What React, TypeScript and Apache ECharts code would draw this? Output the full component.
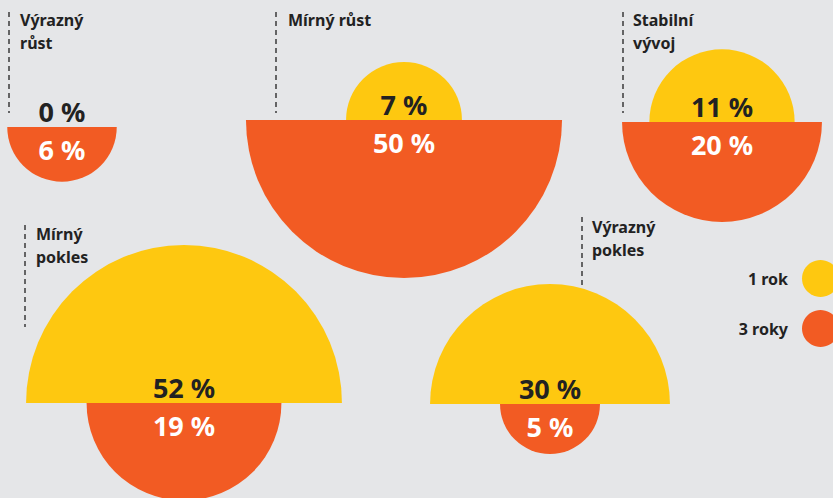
import React, { useEffect, useRef } from "react";
import * as echarts from "echarts";

// ---- data ----
const categories = ["Výrazný\nrůst", "Mírný růst", "Stabilní\nvývoj", "Mírný\npokles", "Výrazný\npokles"];
const oneYear = [0, 7, 11, 52, 30];
const threeYears = [6, 50, 20, 19, 5];
const seriesNames = ["1 rok", "3 roky"];

// ---- layout (pixels) ----
const W = 833;
const H = 498;
const centers = [
  [62, 127],
  [404, 120],
  [722, 122],
  [184, 403],
  [550, 404],
];
const titlePos = [
  [20, 8.5],
  [288, 8.5],
  [633, 8.5],
  [36, 222],
  [592, 215],
];
const dashLines = [
  [9, 12, 113],
  [276, 12, 113],
  [623, 12, 113],
  [25, 225, 327],
  [582, 217, 318],
];
const K_UPPER = 21.9; // px per sqrt(percent)
const K_LOWER = 22.35;
const YELLOW = "#fec810";
const ORANGE = "#f25b23";
const DARK = "#222222";
const FONT = "Noto Sans";

function makeSeries(name: string, values: number[], color: string, upper: boolean, labelColor: string) {
  const k = upper ? K_UPPER : K_LOWER;
  return {
    type: "custom",
    name,
    coordinateSystem: "cartesian2d",
    itemStyle: { color },
    encode: { x: 0, y: 1 },
    data: values.map((v, i) => [centers[i][0], centers[i][1], v]),
    renderItem: (params: any, api: any) => {
      const c = api.coord([api.value(0), api.value(1)]);
      const v = api.value(2) as number;
      const r = api.size([Math.sqrt(v) * k, 0])[0];
      const children: any[] = [];
      if (r > 0) {
        children.push({
          type: "sector",
          shape: {
            cx: c[0],
            cy: c[1],
            r0: 0,
            r,
            startAngle: upper ? Math.PI : 0,
            endAngle: upper ? 2 * Math.PI : Math.PI,
            clockwise: true,
          },
          style: { fill: color },
        });
      }
      children.push({
        type: "text",
        x: c[0],
        y: c[1] + (upper ? -16 : 22),
        z2: 10,
        style: {
          text: v + " %",
          fill: labelColor,
          fontSize: 27,
          fontWeight: "bold",
          fontFamily: FONT,
          align: "center",
          verticalAlign: "middle",
          textAlign: "center",
          textVerticalAlign: "middle",
        },
      });
      return { type: "group", children };
    },
  };
}

export default function App() {
  const ref = useRef<HTMLDivElement>(null);
  useEffect(() => {
    if (!ref.current) return;
    const chart = echarts.init(ref.current, undefined, { renderer: "svg" });
    chart.setOption({
      animation: false,
      backgroundColor: "#e5e6e8",
      grid: { left: 0, right: 0, top: 0, bottom: 0, containLabel: false },
      xAxis: { type: "value", min: 0, max: W, show: false },
      yAxis: { type: "value", min: 0, max: H, inverse: true, show: false },
      legend: {
        data: seriesNames,
        orient: "vertical",
        right: -6,
        top: 260,
        padding: 0,
        itemWidth: 37,
        itemHeight: 37,
        itemGap: 13,
        icon: "circle",
        align: "right",
        selectedMode: false,
        textStyle: {
          fontSize: 16,
          fontWeight: "bold",
          color: DARK,
          fontFamily: FONT,
          padding: [0, 9, 0, 0],
        },
      },
      graphic: [
        ...dashLines.map(([x, y1, y2]) => ({
          type: "line",
          z: 0,
          shape: { x1: x, y1, x2: x, y2 },
          style: { stroke: "#3a3a3a", lineWidth: 1.5, lineDash: [5, 4] },
        })),
        ...categories.map((t, i) => ({
          type: "text",
          x: titlePos[i][0],
          y: titlePos[i][1],
          z: 10,
          style: {
            text: t,
            fill: DARK,
            fontSize: 16,
            fontWeight: "bold",
            fontFamily: FONT,
            lineHeight: 23,
            align: "left",
            verticalAlign: "top",
          },
        })),
      ],
      series: [
        makeSeries(seriesNames[0], oneYear, YELLOW, true, DARK),
        makeSeries(seriesNames[1], threeYears, ORANGE, false, "#ffffff"),
      ],
    });
    return () => chart.dispose();
  }, []);
  return <div ref={ref} style={{ position: "fixed", left: 0, top: 0, width: W, height: H }} />;
}
